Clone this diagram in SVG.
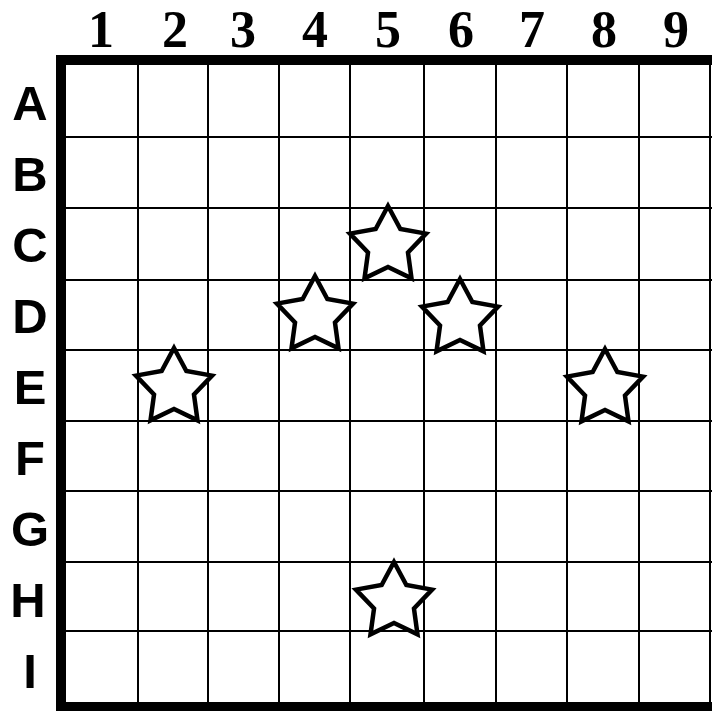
<svg xmlns="http://www.w3.org/2000/svg" width="712" height="711" viewBox="0 0 712 711">
<style>
.thin{stroke:#000;stroke-width:2;fill:none}
.thick{stroke:#000;stroke-width:10;fill:none}
.num{font-family:"Liberation Serif",serif;font-weight:bold;font-size:52px;text-anchor:middle}
.let{font-family:"Liberation Sans",sans-serif;font-weight:bold;font-size:49px;text-anchor:middle}
.star{fill:#fff;stroke:#000;stroke-width:4.5;stroke-linejoin:miter}
</style>
<defs>
<path id="star" d="M0,-40 L12.34,-16.99 L38.04,-12.36 L19.97,6.49 L23.51,32.36 L0,21 L-23.51,32.36 L-19.97,6.49 L-38.04,-12.36 L-12.34,-16.99 Z"/>
</defs>
<rect width="712" height="711" fill="#fff"/>
<g id="grid">
<g class="thin">
<line x1="138" y1="60" x2="138" y2="707"/>
<line x1="208" y1="60" x2="208" y2="707"/>
<line x1="279" y1="60" x2="279" y2="707"/>
<line x1="350" y1="60" x2="350" y2="707"/>
<line x1="424" y1="60" x2="424" y2="707"/>
<line x1="496" y1="60" x2="496" y2="707"/>
<line x1="567" y1="60" x2="567" y2="707"/>
<line x1="639" y1="60" x2="639" y2="707"/>
<line x1="710" y1="60" x2="710" y2="707"/>
<line x1="60" y1="137" x2="712" y2="137"/>
<line x1="60" y1="208" x2="712" y2="208"/>
<line x1="60" y1="280" x2="712" y2="280"/>
<line x1="60" y1="350" x2="712" y2="350"/>
<line x1="60" y1="421" x2="712" y2="421"/>
<line x1="60" y1="491" x2="712" y2="491"/>
<line x1="60" y1="562" x2="712" y2="562"/>
<line x1="60" y1="631" x2="712" y2="631"/>
</g>
<path class="thick" d="M712,60 H61 V707 H712"/>
</g>
<g id="col-labels" class="num">
<text x="101" y="47">1</text>
<text x="175" y="47">2</text>
<text x="243" y="47">3</text>
<text x="315" y="47">4</text>
<text x="388" y="47">5</text>
<text x="461" y="47">6</text>
<text x="532" y="47">7</text>
<text x="604" y="47">8</text>
<text x="676" y="47">9</text>
</g>
<g id="row-labels" class="let">
<text x="30" y="120">A</text>
<text x="30" y="191">B</text>
<text x="30" y="262">C</text>
<text x="30" y="333">D</text>
<text x="30" y="404">E</text>
<text x="30" y="475">F</text>
<text x="30" y="546">G</text>
<text x="28" y="617">H</text>
<text x="30" y="688">I</text>
</g>
<g id="star-C5"><use href="#star" class="star" x="388" y="246"/></g>
<g id="star-D4"><use href="#star" class="star" x="315" y="316"/></g>
<g id="star-D6"><use href="#star" class="star" x="460" y="319"/></g>
<g id="star-E2"><use href="#star" class="star" x="174" y="388"/></g>
<g id="star-E8"><use href="#star" class="star" x="605" y="389"/></g>
<g id="star-H5"><use href="#star" class="star" x="394" y="602"/></g>
</svg>
